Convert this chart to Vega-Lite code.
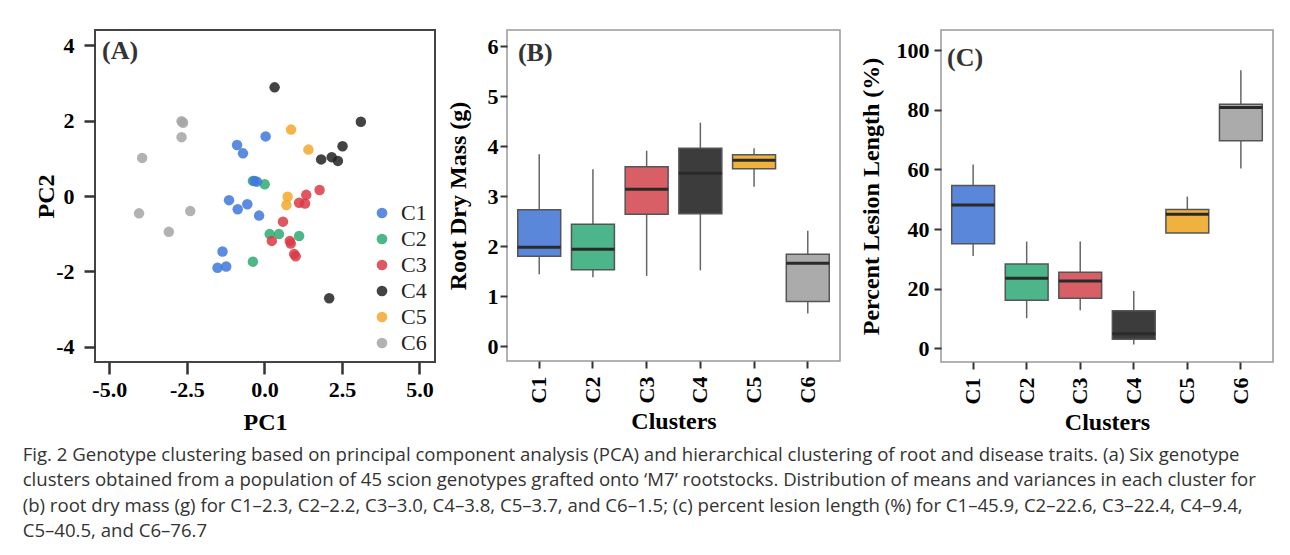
{
  "$schema": "https://vega.github.io/schema/vega-lite/v6.json",
  "background": "white",
  "padding": {"left": 22, "top": 29, "right": 5, "bottom": 5},
  "datasets": {
    "pca": [
      {"cluster": "C6", "PC1": -2.67, "PC2": 1.98},
      {"cluster": "C6", "PC1": -2.62, "PC2": 1.94},
      {"cluster": "C6", "PC1": -2.67, "PC2": 1.56},
      {"cluster": "C6", "PC1": -3.94, "PC2": 1.01},
      {"cluster": "C6", "PC1": -4.04, "PC2": -0.46},
      {"cluster": "C6", "PC1": -3.08, "PC2": -0.95},
      {"cluster": "C6", "PC1": -2.39, "PC2": -0.40},
      {"cluster": "C2", "PC1": -0.37, "PC2": 0.40},
      {"cluster": "C2", "PC1": 0.01, "PC2": 0.31},
      {"cluster": "C2", "PC1": 0.17, "PC2": -1.01},
      {"cluster": "C2", "PC1": 0.47, "PC2": -1.01},
      {"cluster": "C2", "PC1": 1.12, "PC2": -1.06},
      {"cluster": "C2", "PC1": -0.37, "PC2": -1.74},
      {"cluster": "C1", "PC1": 0.04, "PC2": 1.58},
      {"cluster": "C1", "PC1": -0.88, "PC2": 1.35},
      {"cluster": "C1", "PC1": -0.69, "PC2": 1.13},
      {"cluster": "C1", "PC1": -0.32, "PC2": 0.40},
      {"cluster": "C1", "PC1": -0.24, "PC2": 0.38},
      {"cluster": "C1", "PC1": -1.14, "PC2": -0.11},
      {"cluster": "C1", "PC1": -0.86, "PC2": -0.35},
      {"cluster": "C1", "PC1": -0.55, "PC2": -0.22},
      {"cluster": "C1", "PC1": -0.17, "PC2": -0.52},
      {"cluster": "C1", "PC1": -1.35, "PC2": -1.47},
      {"cluster": "C1", "PC1": -1.51, "PC2": -1.90},
      {"cluster": "C1", "PC1": -1.23, "PC2": -1.87},
      {"cluster": "C3", "PC1": 1.78, "PC2": 0.16},
      {"cluster": "C3", "PC1": 1.35, "PC2": 0.03},
      {"cluster": "C3", "PC1": 1.12, "PC2": -0.18},
      {"cluster": "C3", "PC1": 1.31, "PC2": -0.20},
      {"cluster": "C3", "PC1": 0.60, "PC2": -0.68},
      {"cluster": "C3", "PC1": 0.24, "PC2": -1.19},
      {"cluster": "C3", "PC1": 0.82, "PC2": -1.19},
      {"cluster": "C3", "PC1": 0.85, "PC2": -1.26},
      {"cluster": "C3", "PC1": 0.96, "PC2": -1.54},
      {"cluster": "C3", "PC1": 1.01, "PC2": -1.60},
      {"cluster": "C4", "PC1": 0.33, "PC2": 2.88},
      {"cluster": "C4", "PC1": 3.11, "PC2": 1.97},
      {"cluster": "C4", "PC1": 2.52, "PC2": 1.32},
      {"cluster": "C4", "PC1": 1.83, "PC2": 0.97},
      {"cluster": "C4", "PC1": 2.17, "PC2": 1.03},
      {"cluster": "C4", "PC1": 2.37, "PC2": 0.93},
      {"cluster": "C4", "PC1": 2.09, "PC2": -2.71},
      {"cluster": "C5", "PC1": 0.86, "PC2": 1.76},
      {"cluster": "C5", "PC1": 1.42, "PC2": 1.23},
      {"cluster": "C5", "PC1": 0.75, "PC2": -0.02},
      {"cluster": "C5", "PC1": 0.71, "PC2": -0.24}
    ],
    "rdm": [
      {"cluster": "C1", "lower": 1.44, "q1": 1.80, "median": 1.98, "q3": 2.73, "upper": 3.84},
      {"cluster": "C2", "lower": 1.38, "q1": 1.53, "median": 1.94, "q3": 2.44, "upper": 3.54},
      {"cluster": "C3", "lower": 1.41, "q1": 2.64, "median": 3.14, "q3": 3.59, "upper": 3.91},
      {"cluster": "C4", "lower": 1.52, "q1": 2.65, "median": 3.46, "q3": 3.96, "upper": 4.47},
      {"cluster": "C5", "lower": 3.19, "q1": 3.55, "median": 3.72, "q3": 3.83, "upper": 3.96},
      {"cluster": "C6", "lower": 0.66, "q1": 0.90, "median": 1.66, "q3": 1.84, "upper": 2.31}
    ],
    "pll": [
      {"cluster": "C1", "lower": 31.0, "q1": 35.1, "median": 48.1, "q3": 54.6, "upper": 61.7},
      {"cluster": "C2", "lower": 10.1, "q1": 16.1, "median": 23.5, "q3": 28.3, "upper": 35.8},
      {"cluster": "C3", "lower": 12.8, "q1": 16.8, "median": 22.6, "q3": 25.5, "upper": 35.8},
      {"cluster": "C4", "lower": 1.3, "q1": 3.0, "median": 4.9, "q3": 12.6, "upper": 19.2},
      {"cluster": "C5", "lower": 38.7, "q1": 38.7, "median": 45.0, "q3": 46.6, "upper": 50.9},
      {"cluster": "C6", "lower": 60.3, "q1": 69.6, "median": 80.8, "q3": 81.9, "upper": 93.3}
    ]
  },
  "title": {
    "text": [
      "Fig. 2 Genotype clustering based on principal component analysis (PCA) and hierarchical clustering of root and disease traits. (a) Six genotype",
      "clusters obtained from a population of 45 scion genotypes grafted onto ‘M7’ rootstocks. Distribution of means and variances in each cluster for",
      "(b) root dry mass (g) for C1–2.3, C2–2.2, C3–3.0, C4–3.8, C5–3.7, and C6–1.5; (c) percent lesion length (%) for C1–45.9, C2–22.6, C3–22.4, C4–9.4,",
      "C5–40.5, and C6–76.7"
    ],
    "orient": "bottom",
    "anchor": "start",
    "font": "Open Sans",
    "fontSize": 18.6,
    "fontWeight": "normal",
    "color": "#333333",
    "lineHeight": 25.5,
    "offset": 10,
    "dx": -11
  },
  "config": {
    "axis": {
      "grid": false,
      "domain": false,
      "tickColor": "#333333",
      "tickWidth": 2,
      "labelFont": "Liberation Serif",
      "labelFontWeight": "bold",
      "labelFontSize": 22,
      "labelColor": "#000000",
      "titleFont": "Liberation Serif",
      "titleFontWeight": "bold",
      "titleFontSize": 24,
      "titleColor": "#000000"
    },
    "legend": {
      "labelFont": "Liberation Serif",
      "labelFontSize": 22,
      "labelColor": "#222222",
      "symbolType": "circle",
      "symbolSize": 115,
      "symbolOpacity": 0.85,
      "symbolStrokeWidth": 0,
      "rowPadding": 4,
      "labelOffset": 8,
      "offset": 8
    }
  },
  "resolve": {"scale": {"color": "independent", "x": "independent", "y": "independent", "fill": "independent"}},
  "spacing": 9,
  "hconcat": [
    {
      "width": 340,
      "height": 332,
      "view": {"stroke": "#444444", "strokeWidth": 2},
      "layer": [
        {
          "data": {"name": "pca"},
          "mark": {"type": "circle", "size": 110, "opacity": 0.85},
          "encoding": {
            "x": {
              "field": "PC1", "type": "quantitative", "title": "PC1",
              "scale": {"domain": [-5.46, 5.5], "nice": false, "zero": false},
              "axis": {"values": [-5, -2.5, 0, 2.5, 5], "format": ".1f", "labelExpr": "replace(datum.label, '−', '-')", "tickSize": 12, "tickWidth": 2.5, "labelPadding": 5, "titlePadding": 10}
            },
            "y": {
              "field": "PC2", "type": "quantitative", "title": "PC2",
              "scale": {"domain": [-4.4, 4.4], "nice": false, "zero": false},
              "axis": {"values": [-4, -2, 0, 2, 4], "format": "d", "labelExpr": "replace(datum.label, '−', '-')", "tickSize": 11, "tickWidth": 2.5, "labelPadding": 10, "titlePadding": -3}
            },
            "color": {
              "field": "cluster", "type": "nominal",
              "scale": {"domain": ["C1", "C2", "C3", "C4", "C5", "C6"], "range": ["#3F78DB", "#2EAA72", "#DA3A45", "#222222", "#F2A82C", "#A5A5A5"]},
              "legend": {"title": null, "orient": "bottom-right"}
            }
          }
        },
        {
          "data": {"values": [{"label": "(A)"}]},
          "mark": {"type": "text", "font": "Liberation Serif", "fontWeight": "bold", "fontSize": 26, "color": "#333333", "align": "center", "baseline": "middle"},
          "encoding": {
            "x": {"datum": -4.65, "type": "quantitative"},
            "y": {"datum": 3.84, "type": "quantitative"},
            "text": {"field": "label"}
          }
        }
      ]
    },
    {
      "spacing": 17,
      "resolve": {"scale": {"x": "independent", "y": "independent", "fill": "independent"}},
      "hconcat": [
        {
          "width": 333,
          "height": 331,
          "view": {"stroke": "#999999", "strokeWidth": 1.5},
          "data": {"name": "rdm"},
          "encoding": {
            "x": {
              "field": "cluster", "type": "nominal", "title": "Clusters",
              "scale": {"domain": ["C1", "C2", "C3", "C4", "C5", "C6"], "paddingInner": 0.2, "paddingOuter": 0.2},
              "axis": {"labelAngle": 270, "tickSize": 7, "labelPadding": 8, "titlePadding": 7}
            }
          },
          "layer": [
            {
              "mark": {"type": "rule", "color": "#666666", "strokeWidth": 1.5},
              "encoding": {
                "y": {"field": "lower", "type": "quantitative", "title": "Root Dry Mass (g)", "scale": {"domain": [-0.29, 6.32], "nice": false, "zero": false}, "axis": {"values": [0, 1, 2, 3, 4, 5, 6], "tickSize": 7, "labelPadding": 2, "titlePadding": 17}},
                "y2": {"field": "upper"}
              }
            },
            {
              "mark": {"type": "bar", "stroke": "#555555", "strokeWidth": 1.5},
              "encoding": {
                "y": {"field": "q1", "type": "quantitative", "title": "Root Dry Mass (g)"},
                "y2": {"field": "q3"},
                "fill": {"field": "cluster", "type": "nominal", "scale": {"domain": ["C1", "C2", "C3", "C4", "C5", "C6"], "range": ["#5B87DA", "#4DB58A", "#D95F66", "#3C3C3C", "#EFB23F", "#ABABAB"]}, "legend": null}
              }
            },
            {
              "mark": {"type": "tick", "color": "#2A2A2A", "thickness": 3, "size": 43, "opacity": 1},
              "encoding": {
                "y": {"field": "median", "type": "quantitative", "title": "Root Dry Mass (g)"}
              }
            },
            {
              "data": {"values": [{"label": "(B)"}]},
              "mark": {"type": "text", "font": "Liberation Serif", "fontWeight": "bold", "fontSize": 26, "color": "#333333", "align": "center", "baseline": "middle", "dx": -4},
              "encoding": {
                "x": {"datum": "C1", "type": "nominal"},
                "y": {"datum": 5.86, "type": "quantitative"},
                "text": {"field": "label"}
              }
            }
          ]
        },
        {
          "width": 332,
          "height": 332,
          "view": {"stroke": "#999999", "strokeWidth": 1.5},
          "data": {"name": "pll"},
          "encoding": {
            "x": {
              "field": "cluster", "type": "nominal", "title": "Clusters",
              "scale": {"domain": ["C1", "C2", "C3", "C4", "C5", "C6"], "paddingInner": 0.2, "paddingOuter": 0.2},
              "axis": {"labelAngle": 270, "tickSize": 7, "labelPadding": 8, "titlePadding": 7}
            }
          },
          "layer": [
            {
              "mark": {"type": "rule", "color": "#666666", "strokeWidth": 1.5},
              "encoding": {
                "y": {"field": "lower", "type": "quantitative", "title": "Percent Lesion Length (%)", "scale": {"domain": [-4.6, 106.8], "nice": false, "zero": false}, "axis": {"values": [0, 20, 40, 60, 80, 100], "tickSize": 7, "labelPadding": 5, "titlePadding": 13}},
                "y2": {"field": "upper"}
              }
            },
            {
              "mark": {"type": "bar", "stroke": "#555555", "strokeWidth": 1.5},
              "encoding": {
                "y": {"field": "q1", "type": "quantitative", "title": "Percent Lesion Length (%)"},
                "y2": {"field": "q3"},
                "fill": {"field": "cluster", "type": "nominal", "scale": {"domain": ["C1", "C2", "C3", "C4", "C5", "C6"], "range": ["#5B87DA", "#4DB58A", "#D95F66", "#3C3C3C", "#EFB23F", "#ABABAB"]}, "legend": null}
              }
            },
            {
              "mark": {"type": "tick", "color": "#2A2A2A", "thickness": 3, "size": 43, "opacity": 1},
              "encoding": {
                "y": {"field": "median", "type": "quantitative", "title": "Percent Lesion Length (%)"}
              }
            },
            {
              "data": {"values": [{"label": "(C)"}]},
              "mark": {"type": "text", "font": "Liberation Serif", "fontWeight": "bold", "fontSize": 26, "color": "#333333", "align": "center", "baseline": "middle", "dx": -8},
              "encoding": {
                "x": {"datum": "C1", "type": "nominal"},
                "y": {"datum": 97.5, "type": "quantitative"},
                "text": {"field": "label"}
              }
            }
          ]
        }
      ]
    }
  ]
}
